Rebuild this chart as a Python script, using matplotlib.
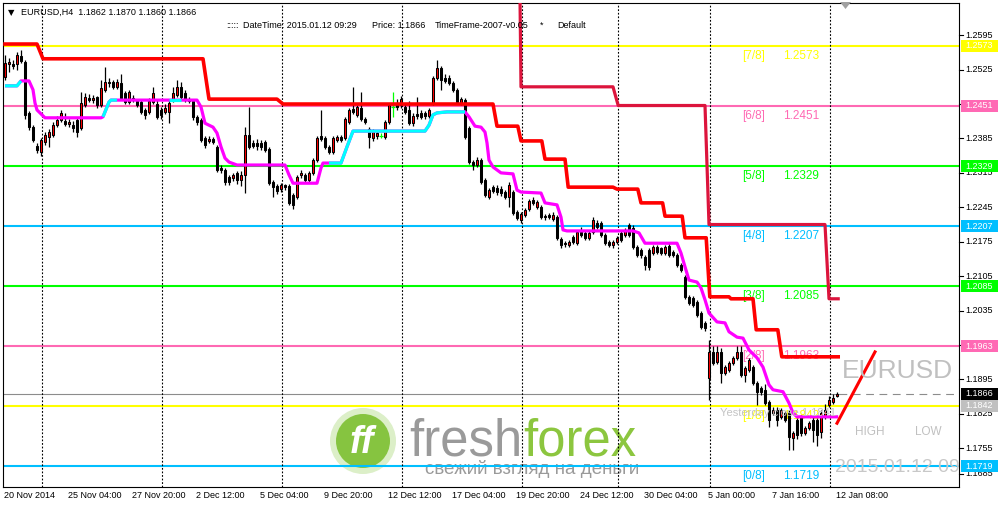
import numpy as np
import matplotlib
matplotlib.use("Agg")
import matplotlib.pyplot as plt
import matplotlib.transforms as mtransforms
from matplotlib.patches import Rectangle, Circle, Polygon

plt.rcParams['font.family'] = ['Liberation Sans', 'DejaVu Sans']

# ---------------- data ----------------
title_text = "EURUSD,H4  1.1862 1.1870 1.1860 1.1866"

opens = [1.2510, 1.2536, 1.2536, 1.2536, 1.2553, 1.2540, 1.2437, 1.2408, 1.2370, 1.2358,
         1.2378, 1.2388, 1.2392, 1.2412, 1.2423, 1.2420, 1.2414, 1.2413, 1.2423, 1.2406,
         1.2453, 1.2468, 1.2463, 1.2469, 1.2453, 1.2484, 1.2500, 1.2500, 1.2490, 1.2498,
         1.2478, 1.2459, 1.2467, 1.2461, 1.2459, 1.2443, 1.2439, 1.2459, 1.2455, 1.2443,
         1.2439, 1.2439, 1.2463, 1.2473, 1.2490, 1.2478, 1.2465, 1.2461, 1.2429, 1.2423,
         1.2386, 1.2380, 1.2384, 1.2368, 1.2325, 1.2321, 1.2307, 1.2305, 1.2315, 1.2301,
         1.2311, 1.2392, 1.2376, 1.2376, 1.2376, 1.2378, 1.2364, 1.2297, 1.2288, 1.2282,
         1.2290, 1.2288, 1.2270, 1.2266, 1.2311, 1.2311, 1.2301, 1.2315, 1.2341, 1.2390,
         1.2386, 1.2368, 1.2358, 1.2382, 1.2388, 1.2386, 1.2419, 1.2445, 1.2433, 1.2447,
         1.2425, 1.2404, 1.2386, 1.2390, 1.2390, 1.2388, 1.2419, 1.2449, 1.2457, 1.2453,
         1.2449, 1.2443, 1.2417, 1.2435, 1.2437, 1.2437, 1.2431, 1.2457, 1.2508, 1.2528,
         1.2508, 1.2508, 1.2498, 1.2484, 1.2457, 1.2463, 1.2406, 1.2337, 1.2331, 1.2341,
         1.2301, 1.2266, 1.2286, 1.2284, 1.2282, 1.2276, 1.2266, 1.2276, 1.2235, 1.2219,
         1.2229, 1.2242, 1.2260, 1.2246, 1.2246, 1.2227, 1.2229, 1.2221, 1.2225, 1.2181,
         1.2173, 1.2169, 1.2185, 1.2173, 1.2195, 1.2193, 1.2183, 1.2195, 1.2213, 1.2213,
         1.2189, 1.2175, 1.2169, 1.2175, 1.2193, 1.2189, 1.2209, 1.2203, 1.2165, 1.2158,
         1.2144, 1.2158, 1.2152, 1.2165, 1.2162, 1.2152, 1.2167, 1.2154, 1.2148, 1.2128,
         1.2103, 1.2063, 1.2061, 1.2053, 1.2030, 1.2010, 1.1898, 1.1951, 1.1931, 1.1951,
         1.1908, 1.1914, 1.1929, 1.1939, 1.1951, 1.1904, 1.1914, 1.1920, 1.1888, 1.1878,
         1.1874, 1.1849, 1.1827, 1.1833, 1.1819, 1.1827, 1.1827, 1.1776, 1.1813, 1.1819,
         1.1786, 1.1796, 1.1813, 1.1813, 1.1788, 1.1819, 1.1843, 1.1849, 1.1862]
highs = [1.2555, 1.2549, 1.2544, 1.2561, 1.2565, 1.2545, 1.2441, 1.2412, 1.2376, 1.2386,
         1.2398, 1.2405, 1.2418, 1.2431, 1.2443, 1.2437, 1.2425, 1.2420, 1.2427, 1.2479,
         1.2478, 1.2475, 1.2474, 1.2472, 1.2504, 1.2530, 1.2508, 1.2504, 1.2506, 1.2517,
         1.2482, 1.2484, 1.2474, 1.2465, 1.2465, 1.2447, 1.2467, 1.2490, 1.2463, 1.2449,
         1.2455, 1.2463, 1.2490, 1.2504, 1.2500, 1.2484, 1.2469, 1.2465, 1.2433, 1.2427,
         1.2390, 1.2390, 1.2388, 1.2372, 1.2331, 1.2325, 1.2311, 1.2315, 1.2319, 1.2319,
         1.2409, 1.2449, 1.2382, 1.2384, 1.2382, 1.2382, 1.2368, 1.2301, 1.2293, 1.2295,
         1.2293, 1.2293, 1.2274, 1.2311, 1.2321, 1.2315, 1.2319, 1.2345, 1.2390, 1.2443,
         1.2390, 1.2372, 1.2390, 1.2392, 1.2392, 1.2429, 1.2447, 1.2490, 1.2453, 1.2479,
         1.2429, 1.2408, 1.2404, 1.2400, 1.2396, 1.2423, 1.2457, 1.2479, 1.2465, 1.2472,
         1.2457, 1.2461, 1.2437, 1.2470, 1.2443, 1.2441, 1.2447, 1.2512, 1.2545, 1.2532,
         1.2516, 1.2514, 1.2502, 1.2488, 1.2469, 1.2467, 1.2410, 1.2341, 1.2347, 1.2345,
         1.2305, 1.2284, 1.2290, 1.2290, 1.2288, 1.2280, 1.2297, 1.2280, 1.2240, 1.2235,
         1.2244, 1.2262, 1.2266, 1.2260, 1.2250, 1.2231, 1.2233, 1.2235, 1.2229, 1.2185,
         1.2177, 1.2179, 1.2189, 1.2199, 1.2205, 1.2197, 1.2197, 1.2225, 1.2219, 1.2217,
         1.2193, 1.2179, 1.2179, 1.2187, 1.2197, 1.2203, 1.2213, 1.2209, 1.2169, 1.2162,
         1.2148, 1.2162, 1.2169, 1.2169, 1.2165, 1.2169, 1.2173, 1.2158, 1.2152, 1.2132,
         1.2107, 1.2067, 1.2065, 1.2057, 1.2034, 1.2014, 1.1975, 1.1963, 1.1963, 1.1959,
         1.1924, 1.1933, 1.1943, 1.1963, 1.1963, 1.1922, 1.1939, 1.1924, 1.1892, 1.1882,
         1.1886, 1.1853, 1.1839, 1.1839, 1.1837, 1.1831, 1.1833, 1.1790, 1.1817, 1.1823,
         1.1800, 1.1811, 1.1819, 1.1817, 1.1833, 1.1845, 1.1862, 1.1866, 1.1870]
lows = [1.2504, 1.2520, 1.2526, 1.2524, 1.2538, 1.2425, 1.2402, 1.2378, 1.2356, 1.2350,
        1.2372, 1.2368, 1.2388, 1.2408, 1.2419, 1.2410, 1.2408, 1.2398, 1.2388, 1.2403,
        1.2449, 1.2459, 1.2457, 1.2447, 1.2449, 1.2480, 1.2490, 1.2486, 1.2486, 1.2463,
        1.2455, 1.2455, 1.2459, 1.2449, 1.2435, 1.2425, 1.2435, 1.2455, 1.2425, 1.2425,
        1.2435, 1.2417, 1.2459, 1.2469, 1.2465, 1.2459, 1.2457, 1.2423, 1.2413, 1.2378,
        1.2366, 1.2376, 1.2374, 1.2317, 1.2315, 1.2291, 1.2291, 1.2299, 1.2293, 1.2288,
        1.2274, 1.2364, 1.2366, 1.2362, 1.2362, 1.2358, 1.2291, 1.2266, 1.2272, 1.2276,
        1.2280, 1.2250, 1.2242, 1.2262, 1.2305, 1.2297, 1.2297, 1.2311, 1.2337, 1.2380,
        1.2364, 1.2354, 1.2354, 1.2378, 1.2378, 1.2382, 1.2415, 1.2435, 1.2429, 1.2421,
        1.2415, 1.2366, 1.2380, 1.2384, 1.2386, 1.2384, 1.2415, 1.2429, 1.2443, 1.2447,
        1.2435, 1.2413, 1.2411, 1.2425, 1.2425, 1.2425, 1.2427, 1.2453, 1.2504, 1.2484,
        1.2498, 1.2494, 1.2480, 1.2455, 1.2453, 1.2384, 1.2333, 1.2321, 1.2327, 1.2293,
        1.2266, 1.2262, 1.2274, 1.2270, 1.2268, 1.2262, 1.2246, 1.2229, 1.2219, 1.2213,
        1.2225, 1.2238, 1.2250, 1.2242, 1.2221, 1.2219, 1.2221, 1.2217, 1.2179, 1.2163,
        1.2165, 1.2165, 1.2171, 1.2169, 1.2185, 1.2179, 1.2179, 1.2191, 1.2201, 1.2185,
        1.2169, 1.2165, 1.2163, 1.2171, 1.2175, 1.2185, 1.2185, 1.2161, 1.2144, 1.2142,
        1.2118, 1.2118, 1.2148, 1.2150, 1.2148, 1.2148, 1.2144, 1.2144, 1.2124, 1.2114,
        1.2059, 1.2046, 1.2042, 1.2022, 1.1998, 1.1994, 1.1853, 1.1925, 1.1927, 1.1888,
        1.1904, 1.1910, 1.1925, 1.1935, 1.1900, 1.1890, 1.1910, 1.1884, 1.1843, 1.1864,
        1.1843, 1.1798, 1.1823, 1.1800, 1.1815, 1.1809, 1.1751, 1.1752, 1.1774, 1.1780,
        1.1782, 1.1792, 1.1768, 1.1759, 1.1776, 1.1815, 1.1839, 1.1845, 1.1860]
closes = [1.2538, 1.2540, 1.2532, 1.2555, 1.2543, 1.2433, 1.2408, 1.2382, 1.2362, 1.2382,
          1.2392, 1.2398, 1.2412, 1.2423, 1.2437, 1.2414, 1.2418, 1.2406, 1.2399, 1.2457,
          1.2469, 1.2464, 1.2467, 1.2453, 1.2488, 1.2500, 1.2497, 1.2490, 1.2500, 1.2467,
          1.2459, 1.2480, 1.2465, 1.2453, 1.2439, 1.2433, 1.2461, 1.2478, 1.2429, 1.2433,
          1.2447, 1.2457, 1.2478, 1.2490, 1.2469, 1.2463, 1.2461, 1.2429, 1.2419, 1.2382,
          1.2372, 1.2384, 1.2378, 1.2321, 1.2321, 1.2297, 1.2297, 1.2311, 1.2301, 1.2311,
          1.2392, 1.2368, 1.2370, 1.2370, 1.2368, 1.2362, 1.2295, 1.2286, 1.2278, 1.2290,
          1.2286, 1.2254, 1.2250, 1.2307, 1.2315, 1.2301, 1.2315, 1.2341, 1.2386, 1.2384,
          1.2368, 1.2358, 1.2386, 1.2388, 1.2382, 1.2425, 1.2443, 1.2439, 1.2449, 1.2425,
          1.2419, 1.2388, 1.2398, 1.2396, 1.2390, 1.2419, 1.2453, 1.2449, 1.2449, 1.2465,
          1.2439, 1.2417, 1.2431, 1.2431, 1.2429, 1.2431, 1.2443, 1.2508, 1.2528, 1.2504,
          1.2502, 1.2498, 1.2484, 1.2459, 1.2465, 1.2388, 1.2337, 1.2331, 1.2341, 1.2297,
          1.2270, 1.2280, 1.2278, 1.2276, 1.2274, 1.2266, 1.2290, 1.2233, 1.2223, 1.2231,
          1.2240, 1.2258, 1.2254, 1.2256, 1.2225, 1.2225, 1.2225, 1.2229, 1.2183, 1.2169,
          1.2171, 1.2175, 1.2175, 1.2195, 1.2189, 1.2183, 1.2193, 1.2219, 1.2205, 1.2189,
          1.2173, 1.2169, 1.2175, 1.2183, 1.2179, 1.2199, 1.2189, 1.2165, 1.2148, 1.2148,
          1.2128, 1.2124, 1.2165, 1.2154, 1.2152, 1.2165, 1.2148, 1.2148, 1.2128, 1.2118,
          1.2063, 1.2050, 1.2046, 1.2026, 1.2002, 1.2000, 1.1951, 1.1929, 1.1951, 1.1908,
          1.1920, 1.1929, 1.1939, 1.1951, 1.1904, 1.1918, 1.1935, 1.1888, 1.1870, 1.1870,
          1.1847, 1.1813, 1.1833, 1.1813, 1.1833, 1.1813, 1.1778, 1.1786, 1.1782, 1.1786,
          1.1796, 1.1806, 1.1792, 1.1782, 1.1827, 1.1833, 1.1853, 1.1857, 1.1866]

x_label_bars = [0, 16, 32, 48, 64, 80, 96, 112, 128, 144, 160, 176, 192, 208]
x_labels = ["20 Nov 2014", "25 Nov 04:00", "27 Nov 20:00", "2 Dec 12:00", "5 Dec 04:00",
            "9 Dec 20:00", "12 Dec 12:00", "17 Dec 04:00", "19 Dec 20:00", "24 Dec 12:00",
            "30 Dec 04:00", "5 Jan 00:00", "7 Jan 16:00", "12 Jan 08:00"]
separator_bars = [9, 39, 69, 99, 129, 153, 176, 206]
price_ticks = [1.2595, 1.2525, 1.2455, 1.2385, 1.2315, 1.2245, 1.2175, 1.2105,
               1.2035, 1.1965, 1.1895, 1.1825, 1.1755, 1.1685]

level_values = [1.2573, 1.2451, 1.2329, 1.2207, 1.2085, 1.1963, 1.1842, 1.1719]
level_names = ["[7/8]", "[6/8]", "[5/8]", "[4/8]", "[3/8]", "[2/8]", "[1/8]", "[0/8]"]
level_colors = ["#ffff00", "#ff69b4", "#00ff00", "#00bfff", "#00ff00", "#ff69b4", "#ffff00", "#00bfff"]

# stop line (bright red) anchors: bar, price
red_x = [0, 8, 9.5, 49.5, 51, 68, 69.5, 122, 123, 128.2, 129, 134.2, 135, 140, 140.8, 152,
         153, 158.2, 159, 164.4, 165, 169.3, 170, 175.3, 176.2, 181, 181.5, 187, 187.8, 193.2,
         194.2, 208.3]
red_y = [1.2577, 1.2577, 1.2547, 1.2547, 1.2465, 1.2465, 1.2455, 1.2455, 1.2410, 1.2410,
         1.2380, 1.2380, 1.2343, 1.2343, 1.2286, 1.2286, 1.2282, 1.2282, 1.2254, 1.2254,
         1.2227, 1.2227, 1.2183, 1.2183, 1.2063, 1.2063, 1.2059, 1.2059, 1.1996, 1.1996,
         1.1941, 1.1941]
# second stop line (crimson)
crimson_x = [128.3, 129, 152, 153.3, 175, 176, 205, 206, 208.3]
crimson_y = [1.3000, 1.2490, 1.2490, 1.2452, 1.2452, 1.2210, 1.2210, 1.2059, 1.2059]

# moving line (magenta, cyan where rising)
ma_x = [0, 3, 4, 6, 7, 7.5, 8, 10, 24, 24.5, 26, 26.5, 28, 41, 44, 48, 49, 50, 52, 53, 54,
        55, 56, 58, 70, 71, 72, 78, 79, 79.5, 81, 84, 85.5, 87, 105, 106, 107, 108, 110.5,
        115, 116, 117.5, 119, 120, 120.5, 121, 122, 124, 127, 128, 129, 134, 135, 138, 139,
        139.5, 140.5, 157, 158.5, 160, 168, 169, 170, 171, 173, 174, 175, 176, 178, 180,
        181, 183, 184.5, 186, 188, 189.5, 191, 192, 194.5, 196, 197, 198, 208.3]
ma_y = [1.2492, 1.2492, 1.2502, 1.2502, 1.2484, 1.2457, 1.2443, 1.2427, 1.2427, 1.2429,
        1.2459, 1.2463, 1.2463, 1.2463, 1.2463, 1.2463, 1.2449, 1.2416, 1.2408, 1.2396,
        1.2368, 1.2345, 1.2337, 1.2331, 1.2331, 1.2311, 1.2294, 1.2294, 1.2325, 1.2335,
        1.2335, 1.2335, 1.2368, 1.2400, 1.2400, 1.2412, 1.2433, 1.2437, 1.2439, 1.2439,
        1.2429, 1.2410, 1.2408, 1.2398, 1.2376, 1.2341, 1.2327, 1.2315, 1.2313, 1.2280,
        1.2276, 1.2274, 1.2254, 1.2250, 1.2225, 1.2199, 1.2197, 1.2197, 1.2193, 1.2172,
        1.2172, 1.2152, 1.2124, 1.2097, 1.2093, 1.2081, 1.2057, 1.2030, 1.2012, 1.2010,
        1.1992, 1.1981, 1.1979, 1.1955, 1.1939, 1.1920, 1.1884, 1.1874, 1.1870, 1.1847,
        1.1827, 1.1819, 1.1819]
cyan_ranges = [(0, 4), (24.5, 28), (41, 44), (81, 115)]

trend_x = [208, 217.5]
trend_y = [1.1806, 1.1951]
bid_price = 1.1866
yesterday_close = "Yesterday close 1.1841"
info_date = "2015.01.12 09:29"
big_date = "2015.01.12 09.29"

# ---------------- figure ----------------
W, H = 1001, 507
fig = plt.figure(figsize=(W / 100, H / 100), dpi=100)
fig.patch.set_facecolor('white')
L, R, T, B = 3, 959, 3, 487
ax = fig.add_axes([L / W, 1 - B / H, (R - L) / W, (B - T) / H])
YMAX, YMIN = 1.266043, 1.167631
ax.set_xlim(-0.5, 238.5)
ax.set_ylim(YMIN, YMAX)
ax.set_xticks([])
ax.set_yticks([])
for s in ax.spines.values():
    s.set_linewidth(0.8)
    s.set_color('black')
ax.set_facecolor('white')

pxu = (YMAX - YMIN) / (B - T)   # price per pixel
px = mtransforms.Affine2D().scale(1.0 / W, -1.0 / H).translate(0, 1) + fig.transFigure
blend_fig_data = mtransforms.blended_transform_factory(px, ax.transData)

# watermark
ax.add_patch(Circle((363, 441), 33, transform=px, facecolor='#dcefc8', edgecolor='none', zorder=0.5))
ax.add_patch(Circle((363, 441), 27, transform=px, facecolor='#86c440', edgecolor='none', zorder=0.6))
ax.text(362, 443, 'ff', transform=px, color='white', fontsize=27, fontweight='bold',
        style='italic', ha='center', va='center', zorder=0.7)
ax.text(409, 456, 'fresh', transform=px, color='#9a9a9a', fontsize=36.5, ha='left',
        va='baseline', zorder=0.7)
ax.text(523, 456, 'forex', transform=px, color='#8cc63f', fontsize=36.5, ha='left',
        va='baseline', zorder=0.7)
ax.text(425, 469, 'свежий взгляд на деньги', transform=px, color='#9a9a9a', fontsize=13.5,
        ha='left', va='center', zorder=0.7)

# separators
for b in separator_bars:
    ax.axvline(b + 0.25, color='black', lw=0.8, ls=(0, (1.6, 1.6)), zorder=1.5)

# levels
for v, nm, col in zip(level_values, level_names, level_colors):
    ax.axhline(v, color=col, lw=1.5, zorder=1)
    ax.text(187.25, v - 10 * pxu, nm, color=col, fontsize=8.5, ha='center', va='center', zorder=2)
    ax.text(199, v - 10 * pxu, f"{v:.4f}", color=col, fontsize=8.5, ha='center', va='center', zorder=2)

# bid line
ax.plot([-0.5, 208.5], [bid_price, bid_price], color='#8c8c8c', lw=0.8, zorder=1.2)
ax.plot([208.5, 238.5], [bid_price, bid_price], color='#8c8c8c', lw=0.8,
        ls=(0, (7, 5)), zorder=1.2)

# candles
o = np.array(opens); hh = np.array(highs); ll = np.array(lows); c = np.array(closes)
idx = np.arange(len(o))
up = c > o
dn = c < o
dj = c == o
ax.vlines(idx[~dj], ll[~dj], hh[~dj], color='black', lw=0.9, zorder=3)
ax.bar(idx[up], c[up] - o[up], bottom=o[up], width=0.62, color='#ff0000',
       edgecolor='black', lw=0.75, zorder=3.5)
ax.bar(idx[dn], o[dn] - c[dn], bottom=c[dn], width=0.62, color='black',
       edgecolor='black', lw=0.75, zorder=3.5)
ax.vlines(idx[dj], ll[dj], hh[dj], color='#00ff00', lw=0.9, zorder=3)
ax.hlines(o[dj], idx[dj] - 0.4, idx[dj] + 0.4, color='#00ff00', lw=0.9, zorder=3)

# moving line
mx = np.array(ma_x); my = np.array(ma_y)
ax.plot(mx, my, color='#ff00ff', lw=2.3, zorder=4, solid_capstyle='butt')
for a, b in cyan_ranges:
    m = (mx >= a) & (mx <= b)
    ax.plot(mx[m], my[m], color='#00ffff', lw=2.3, zorder=4.1, solid_capstyle='butt')

# stop lines
ax.plot(red_x, red_y, color='#ff0000', lw=2.6, zorder=5)
ax.plot(crimson_x, crimson_y, color='#dc143c', lw=2.3, zorder=5)
ax.plot(trend_x, trend_y, color='#ff0000', lw=2.2, zorder=5)

# chart texts
ax.text(193.25, 1.18268, yesterday_close, color='#c4c4c4', fontsize=8, ha='center',
        va='center', zorder=6)
ax.text(897, 371, "EURUSD", transform=px, color='#c0c0c0', fontsize=19, ha='center',
        va='center', zorder=6)
ax.text(870, 432, "HIGH", transform=px, color='#c0c0c0', fontsize=8.5, ha='center',
        va='center', zorder=6)
ax.text(928, 432, "LOW", transform=px, color='#c0c0c0', fontsize=8.5, ha='center',
        va='center', zorder=6)
ax.text(835, 468, big_date, transform=px, color='#c8c8c8', fontsize=14, ha='left',
        va='center', zorder=6, clip_on=True)

# title and info
fig.text(8 / W, 1 - 12.5 / H, '▼', fontsize=6, family='DejaVu Sans', ha='left', va='center')
fig.text(21 / W, 1 - 12.5 / H, title_text, fontsize=6.5, ha='left', va='center')
for xx, t in [(226, ":::::"), (243, "DateTime: " + info_date), (372, "Price: 1.1866"),
              (435, "TimeFrame-2007-v0.05"), (540, "*"), (557, "Default")]:
    fig.text(xx / W, 1 - 25.5 / H, t, fontsize=6.5, ha='left', va='center')

# top shift marker
fig.add_artist(Polygon([[840 / W, 1 - 2 / H], [851 / W, 1 - 2 / H], [845.5 / W, 1 - 9 / H]],
                       closed=True, transform=fig.transFigure, facecolor='#a0a0a0',
                       edgecolor='none'))

# x labels
xlab_tr = mtransforms.blended_transform_factory(ax.transData, px)
for b, t in zip(x_label_bars, x_labels):
    ax.text(b - 0.25, 496, t, transform=xlab_tr, fontsize=6.5, ha='left', va='center',
            clip_on=False)

# right axis labels
for p in price_ticks:
    pd = max(p, YMIN + 13 * pxu)
    ax.plot([959, 963], [pd, pd], transform=blend_fig_data, color='black', lw=0.8,
            clip_on=False)
    ax.text(965, pd, f"{p:.4f}", transform=blend_fig_data, fontsize=6.5, ha='left',
            va='center', clip_on=False)

box_vals = level_values + [bid_price]
box_cols = level_colors + ['black']
box_vals[6] = 1.1842
box_cols[6] = '#c0c0c0'
for v, col in zip(box_vals, box_cols):
    ax.add_patch(Rectangle((961, v - 6 * pxu), 37, 12 * pxu, transform=blend_fig_data,
                           facecolor=col, edgecolor='none', clip_on=False, zorder=7))
    ax.text(979.5, v, f"{v:.4f}", transform=blend_fig_data, color='white', fontsize=6.5,
            ha='center', va='center', clip_on=False, zorder=8)

fig.savefig('out.png', dpi=100)
